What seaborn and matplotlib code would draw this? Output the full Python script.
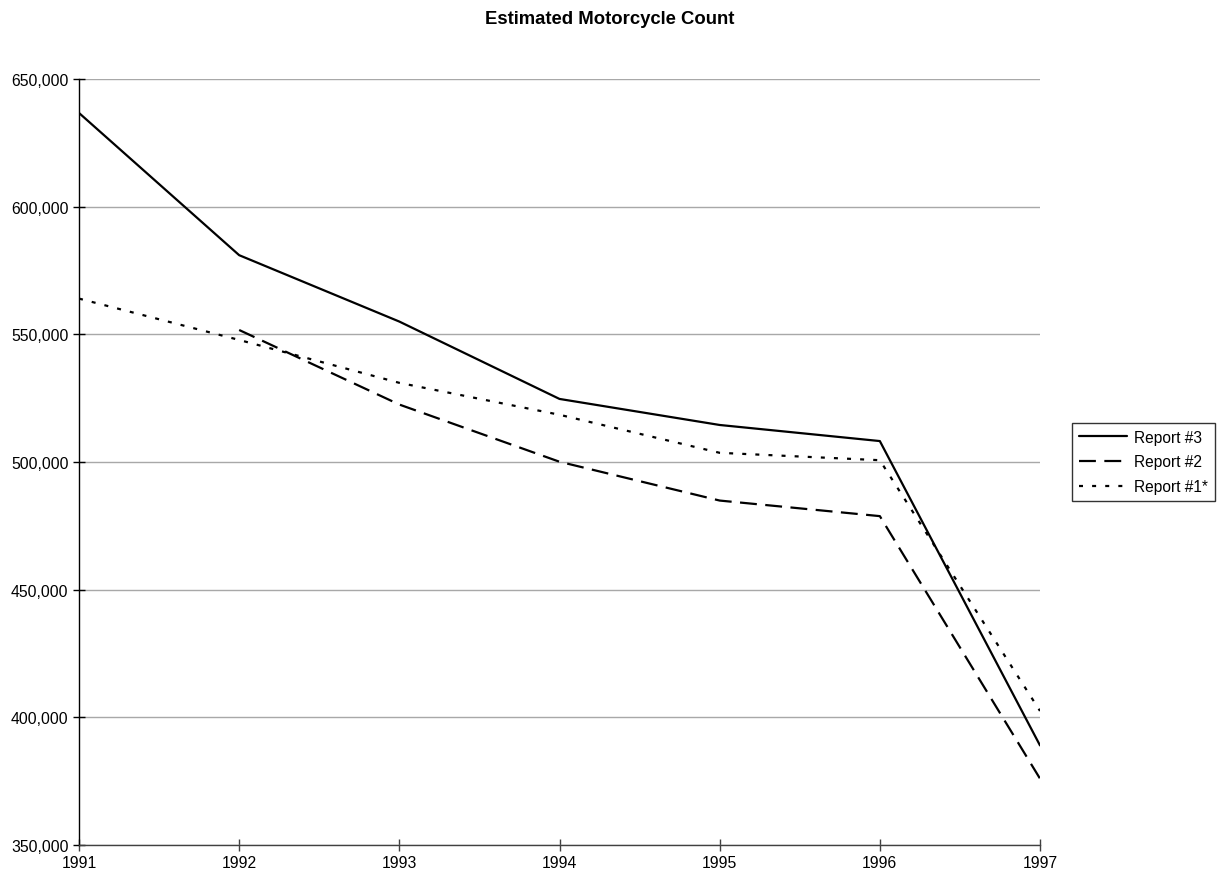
import numpy as np
import pandas as pd
import matplotlib
matplotlib.use("Agg")
import matplotlib.pyplot as plt
import matplotlib.ticker as mticker
import seaborn as sns

years = [1991, 1992, 1993, 1994, 1995, 1996, 1997]
report3 = [636700, 581000, 555000, 524700, 514500, 508200, 389000]
report2 = [np.nan, 551700, 522500, 500100, 484900, 478800, 376000]
report1 = [564000, 547800, 531000, 518500, 503600, 500700, 402500]
series_names = ["Report #3", "Report #2", "Report #1*"]
y_ticks = [350000, 400000, 450000, 500000, 550000, 600000, 650000]

sns.set_style("white")
plt.rcParams['font.family'] = ['Liberation Sans', 'DejaVu Sans']
plt.rcParams['text.color'] = 'black'

df = pd.DataFrame({
    "Year": years * 3,
    "Count": report3 + report2 + report1,
    "Series": [series_names[0]] * 7 + [series_names[1]] * 7 + [series_names[2]] * 7,
})

fig = plt.figure(figsize=(12.19, 8.78), dpi=100)
ax = fig.add_axes([79 / 1219, 1 - 846 / 878, (1040 - 79) / 1219, (846 - 80) / 878])

dashes = {"Report #3": "", "Report #2": (7.6, 3.8), "Report #1*": (1.8, 4.1)}
sns.lineplot(data=df, x="Year", y="Count", hue="Series", style="Series",
             palette={n: "black" for n in series_names}, dashes=dashes,
             linewidth=1.6, ax=ax, legend=True, sort=False)

ax.set_xlim(1991, 1997)
ax.set_ylim(350000, 650000)
ax.set_xticks(years)
ax.set_yticks(y_ticks)
ax.yaxis.set_major_formatter(mticker.FuncFormatter(lambda v, p: f"{v:,.0f}"))
ax.set_xlabel("")
ax.set_ylabel("")
ax.grid(axis="y", color="#a8a8a8", linewidth=1.0)
ax.set_axisbelow(True)
for s in ["top", "right"]:
    ax.spines[s].set_visible(False)
ax.spines["left"].set_color("black")
ax.spines["bottom"].set_color("#404040")
ax.spines["left"].set_linewidth(1.0)
ax.spines["bottom"].set_linewidth(1.0)
ax.tick_params(axis="both", direction="inout", length=9, width=1.0, labelsize=11.3,
               colors="black", pad=3, left=True, bottom=True)
ax.tick_params(axis="x", color="#404040")

fig.text(0.5, 1 - 20 / 878, "Estimated Motorcycle Count", ha="center", va="center",
         fontsize=13.3, fontweight="bold", color="black")

h, l = ax.get_legend_handles_labels()
leg = ax.legend(h, l, loc="center left", bbox_to_anchor=(1072 / 1219, 1 - 463 / 878),
                bbox_transform=fig.transFigure, frameon=True, fancybox=False,
                edgecolor="black", fontsize=11.2, handlelength=3.1, handletextpad=0.45,
                borderpad=0.45, labelspacing=0.62, borderaxespad=0)
leg.get_frame().set_linewidth(1.0)
for t in leg.get_texts():
    t.set_color("black")

fig.savefig("out.png", dpi=100)
